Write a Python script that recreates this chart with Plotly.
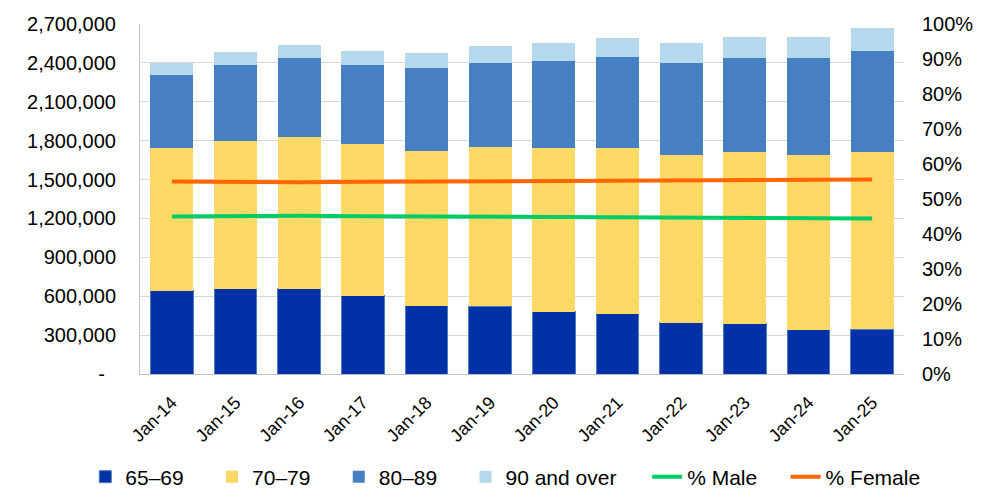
import plotly.graph_objects as go

# data
months = ["Jan-14", "Jan-15", "Jan-16", "Jan-17", "Jan-18", "Jan-19",
          "Jan-20", "Jan-21", "Jan-22", "Jan-23", "Jan-24", "Jan-25"]

age_65_69 = [644000, 659000, 659000, 602000, 528000, 523000,
             482000, 463000, 394000, 389000, 340000, 345000]
age_70_79 = [1101000, 1138000, 1169000, 1172000, 1194000, 1225000,
             1258000, 1282000, 1295000, 1323000, 1346000, 1367000]
age_80_89 = [562000, 587000, 607000, 612000, 636000, 654000,
             675000, 698000, 710000, 726000, 752000, 780000]
age_90_over = [92000, 98000, 101000, 108000, 116000, 126000,
               138000, 149000, 154000, 160000, 164000, 175000]

pct_male = [0.450, 0.452, 0.452, 0.451, 0.450, 0.449,
            0.449, 0.448, 0.447, 0.446, 0.445, 0.444]
pct_female = [0.550, 0.548, 0.548, 0.549, 0.550, 0.551,
              0.551, 0.552, 0.553, 0.554, 0.555, 0.556]

left_ticks = [0, 300000, 600000, 900000, 1200000, 1500000, 1800000, 2100000, 2400000, 2700000]
left_labels = ["-\u00a0\u00a0", "300,000", "600,000", "900,000", "1,200,000", "1,500,000",
               "1,800,000", "2,100,000", "2,400,000", "2,700,000"]

font_family = "Liberation Sans, Arial, sans-serif"
pad = "\u00a0\u00a0\u00a0\u00a0"  # extra room after a legend entry, like the excel legend

fig = go.Figure()

# bars go in the first legend, the two lines in a second one so nothing wraps
fig.add_trace(go.Bar(x=months, y=age_65_69, name="65\u201369" + pad,
                     marker=dict(color="#0031A7", line=dict(color="#4A7EBB", width=1))))
fig.add_trace(go.Bar(x=months, y=age_70_79, name="70\u201379" + pad,
                     marker=dict(color="#FFD966", line=dict(width=0))))
fig.add_trace(go.Bar(x=months, y=age_80_89, name="80\u201389" + pad,
                     marker=dict(color="#467FC2", line=dict(width=0))))
fig.add_trace(go.Bar(x=months, y=age_90_over, name="90 and over",
                     marker=dict(color="#B4D9EC", line=dict(width=0))))

fig.add_trace(go.Scatter(x=months, y=pct_male, name="% Male" + pad, mode="lines",
                         line=dict(color="#00CC66", width=4), yaxis="y2", legend="legend2"))
fig.add_trace(go.Scatter(x=months, y=pct_female, name="% Female", mode="lines",
                         line=dict(color="#FF6600", width=4), yaxis="y2", legend="legend2"))

# the page body has an 8px margin, so the figure is sized and placed to suit
fig.update_layout(
    width=991, height=496,
    barmode="stack",
    bargap=0.325,
    plot_bgcolor="white",
    paper_bgcolor="white",
    font=dict(family=font_family, size=20, color="#000000"),
    margin=dict(l=132, r=95, t=16, b=130, autoexpand=False),
    xaxis=dict(
        type="category",
        tickangle=-45,
        tickfont=dict(size=18),
        showline=True, linecolor="#BFBFBF", linewidth=1,
        showgrid=False,
        ticks="",
        ticklabelstandoff=10,
        automargin=False,
    ),
    yaxis=dict(
        range=[0, 2700000],
        tickvals=left_ticks,
        ticktext=left_labels,
        showgrid=True, gridcolor="#D9D9D9", gridwidth=1,
        showline=True, linecolor="#BFBFBF", linewidth=1,
        zeroline=False,
        ticks="",
        ticklabelstandoff=19,
        automargin=False,
    ),
    yaxis2=dict(
        overlaying="y",
        side="right",
        range=[0, 1],
        dtick=0.1,
        tickformat=".0%",
        showgrid=False,
        showline=False,
        zeroline=False,
        ticks="",
        ticklabelstandoff=17,
        automargin=False,
    ),
    legend=dict(
        orientation="h",
        xref="container", yref="container",
        x=0.078, xanchor="left",
        y=0.0544, yanchor="middle",
        font=dict(size=21),
        traceorder="normal",
    ),
    legend2=dict(
        orientation="h",
        xref="container", yref="container",
        x=0.645, xanchor="left",
        y=0.0544, yanchor="middle",
        font=dict(size=21),
        traceorder="normal",
    ),
)

fig.write_html("out.html")
